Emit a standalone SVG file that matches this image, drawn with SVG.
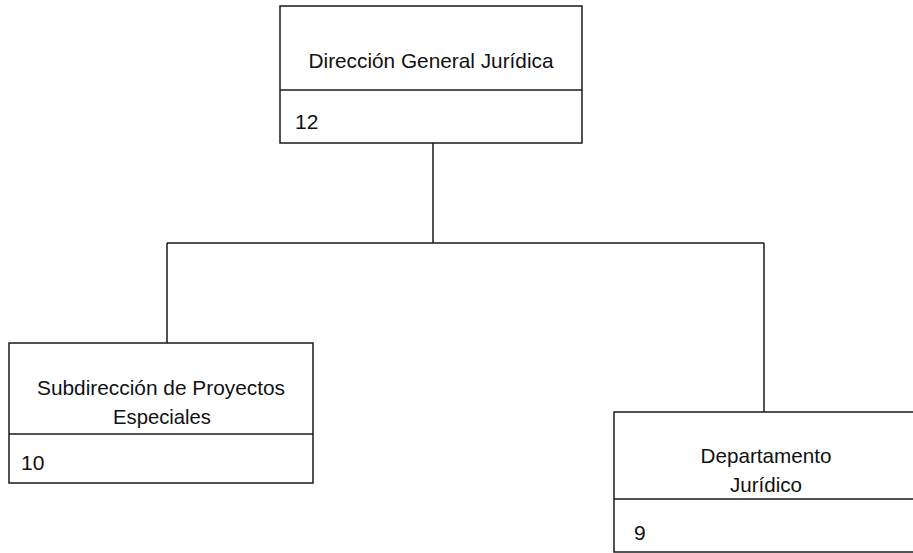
<svg xmlns="http://www.w3.org/2000/svg" width="913" height="553" viewBox="0 0 913 553">
<style>
.box{fill:#fff;stroke:#1a1a1a;stroke-width:1.5}
.div{stroke:#1a1a1a;stroke-width:1.5}
.conn{fill:none;stroke:#1a1a1a;stroke-width:1.5}
text{font-family:"Liberation Sans",Arial,sans-serif;font-size:21px;fill:#111}
.c{text-anchor:middle}
</style>
<rect width="913" height="553" fill="#fff"/>
<g id="connectors">
<path class="conn" d="M433 143 V243 M167 243 H764 M167 243 V343 M764 243 V412"/>
</g>
<g id="node-dgj">
<rect class="box" x="280" y="6" width="302" height="137"/>
<line class="div" x1="280" y1="90" x2="582" y2="90"/>
<text class="c" x="431" y="68" textLength="245" lengthAdjust="spacingAndGlyphs">Dirección General Jurídica</text>
<text x="295" y="129">12</text>
</g>
<g id="node-spe">
<rect class="box" x="9" y="343" width="304" height="140"/>
<line class="div" x1="9" y1="434" x2="313" y2="434"/>
<text class="c" x="161" y="395" textLength="248" lengthAdjust="spacingAndGlyphs">Subdirección de Proyectos</text>
<text class="c" x="162" y="424" textLength="98" lengthAdjust="spacingAndGlyphs">Especiales</text>
<text x="21" y="470">10</text>
</g>
<g id="node-dj">
<rect class="box" x="614" y="412" width="310" height="140"/>
<line class="div" x1="614" y1="499" x2="913" y2="499"/>
<text class="c" x="766" y="463" textLength="131" lengthAdjust="spacingAndGlyphs">Departamento</text>
<text class="c" x="766" y="492" textLength="72" lengthAdjust="spacingAndGlyphs">Jurídico</text>
<text x="634" y="540">9</text>
</g>
</svg>
